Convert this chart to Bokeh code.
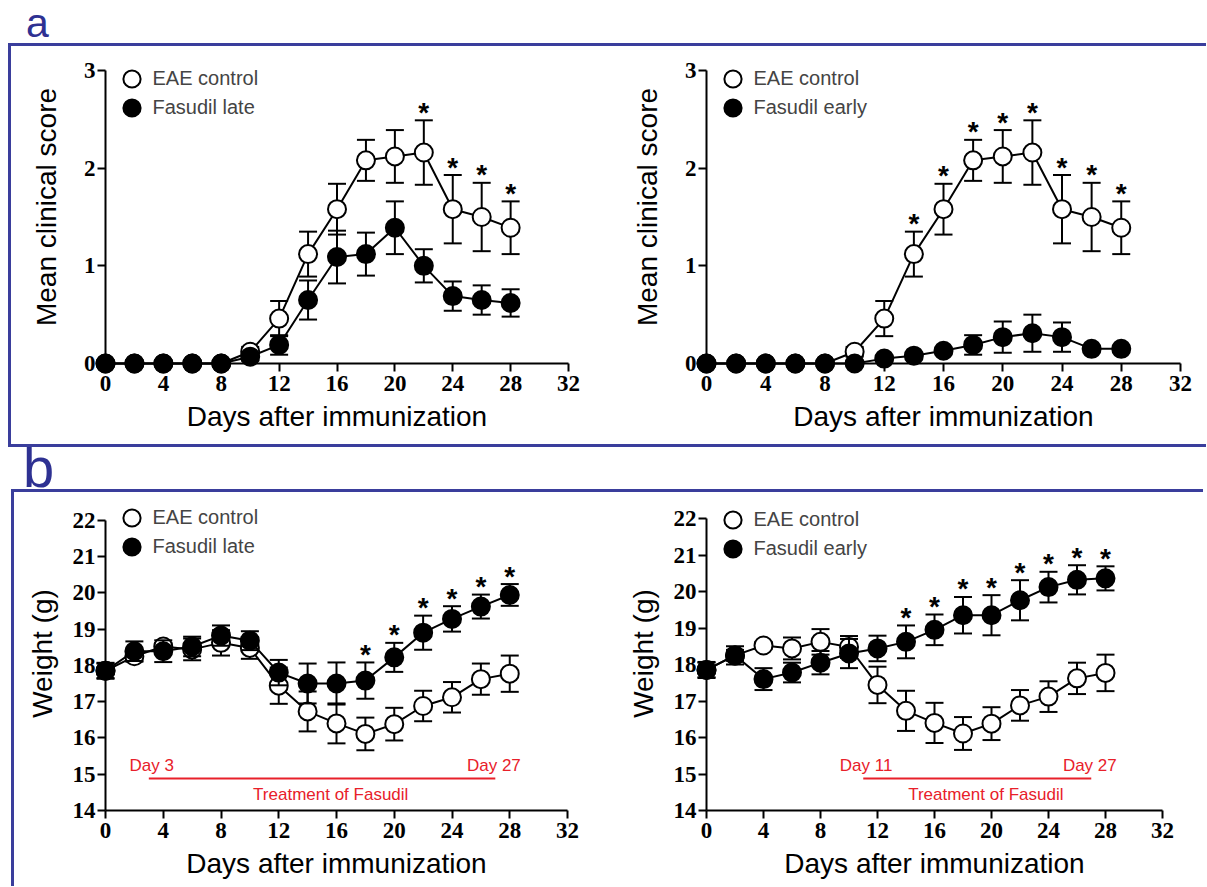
from bokeh.plotting import figure
from bokeh.models import Range1d, FixedTicker, ColumnDataSource, Legend, LegendItem, Div
from bokeh.layouts import row, column
from bokeh.embed import file_html
from bokeh.resources import INLINE
from bokeh.core.properties import value

# ---------------- data ----------------
days = [0, 2, 4, 6, 8, 10, 12, 14, 16, 18, 20, 22, 24, 26, 28]

# clinical score
eae_score = [0, 0, 0, 0, 0, 0.12, 0.46, 1.12, 1.58, 2.08, 2.12, 2.16, 1.58, 1.50, 1.39]
eae_score_err = [0, 0, 0, 0, 0, 0.05, 0.18, 0.23, 0.26, 0.21, 0.27, 0.33, 0.35, 0.35, 0.27]
late_score = [0, 0, 0, 0, 0, 0.07, 0.19, 0.65, 1.09, 1.12, 1.39, 1.00, 0.69, 0.65, 0.62]
late_score_err = [0, 0, 0, 0, 0, 0.04, 0.10, 0.20, 0.27, 0.22, 0.27, 0.17, 0.15, 0.15, 0.14]
early_score = [0, 0, 0, 0, 0, 0, 0.05, 0.08, 0.13, 0.19, 0.27, 0.31, 0.27, 0.15, 0.15]
early_score_err = [0, 0, 0, 0, 0, 0, 0, 0, 0, 0.10, 0.16, 0.19, 0.15, 0, 0]

# weight (g)
eae_weight = [17.85, 18.25, 18.52, 18.44, 18.62, 18.48, 17.44, 16.73, 16.40, 16.11, 16.38, 16.88, 17.12, 17.62, 17.77]
eae_weight_err = [0.20, 0.15, 0.10, 0.30, 0.35, 0.30, 0.50, 0.55, 0.55, 0.45, 0.45, 0.42, 0.42, 0.43, 0.50]
late_weight = [17.85, 18.39, 18.39, 18.52, 18.82, 18.68, 17.80, 17.50, 17.50, 17.58, 18.22, 18.90, 19.28, 19.62, 19.94]
late_weight_err = [0.22, 0.27, 0.30, 0.27, 0.28, 0.26, 0.35, 0.55, 0.58, 0.50, 0.40, 0.47, 0.35, 0.33, 0.30]
early_weight = [17.85, 18.25, 17.60, 17.78, 18.05, 18.30, 18.44, 18.62, 18.95, 19.35, 19.35, 19.76, 20.12, 20.32, 20.36]
early_weight_err = [0.22, 0.25, 0.30, 0.27, 0.32, 0.40, 0.35, 0.45, 0.42, 0.50, 0.55, 0.55, 0.42, 0.40, 0.33]

# significance stars (days)
stars_score_late = [22, 24, 26, 28]
stars_score_early = [14, 16, 18, 20, 22, 24, 26, 28]
stars_weight_late = [18, 20, 22, 24, 26, 28]
stars_weight_early = [14, 16, 18, 20, 22, 24, 26, 28]

# treatment periods
treat_late = [3, 27]
treat_early = [11, 27]

x_ticks = [0, 4, 8, 12, 16, 20, 24, 28, 32]
score_ticks = [0, 1, 2, 3]
weight_ticks = [14, 15, 16, 17, 18, 19, 20, 21, 22]

BLUE = "#3a3e9c"
NAVY = "#2e3192"
RED = "#e8202a"
SANS = "Liberation Sans"


def add_series(p, y, err, fill):
    src = ColumnDataSource(dict(x=days, y=y))
    p.line("x", "y", source=src, line_color="black", line_width=2, level="annotation")
    xs = [d for d, e in zip(days, err) if e > 0]
    up = [v + e for v, e in zip(y, err) if e > 0]
    lo = [v - e for v, e in zip(y, err) if e > 0]
    esrc = ColumnDataSource(dict(x=xs, upper=up, lower=lo))
    p.segment(x0="x", y0="lower", x1="x", y1="upper", source=esrc,
              line_color="black", line_width=2, level="annotation")
    p.scatter("x", "upper", source=esrc, marker="dash", size=18,
              line_color="black", line_width=2, level="annotation")
    p.scatter("x", "lower", source=esrc, marker="dash", size=18,
              line_color="black", line_width=2, level="annotation")
    sc = p.scatter("x", "y", source=src, size=18, fill_color=fill,
                   line_color="black", line_width=2, level="annotation")
    return sc


def make_panel(width, height, mbl, mbr, axis_top_px, axis_px, yr, yticks, ylabel,
               ylab_standoff, ctrl, ctrl_err, trt, trt_err, trt_name, star_days,
               star_on_ctrl, leg_dy, treat=None):
    mbt = 4
    extra = axis_top_px - mbt
    mbb = height - axis_top_px - axis_px
    y_end = yr[1] + extra * (yr[1] - yr[0]) / axis_px
    p = figure(width=width, height=height, x_range=Range1d(0, 32),
               y_range=Range1d(yr[0], y_end), output_backend="svg",
               toolbar_location=None, min_border_left=mbl, min_border_right=mbr,
               min_border_top=mbt, min_border_bottom=mbb)
    p.xgrid.visible = False
    p.ygrid.visible = False
    p.outline_line_color = None
    p.xaxis.ticker = FixedTicker(ticks=x_ticks)
    p.yaxis.ticker = FixedTicker(ticks=yticks)
    p.yaxis.bounds = (yr[0], yr[1])
    p.xaxis.axis_label = "Days after immunization"
    p.yaxis.axis_label = ylabel
    for ax in (p.xaxis[0], p.yaxis[0]):
        ax.axis_line_width = 2
        ax.axis_line_color = "black"
        ax.major_tick_line_width = 2
        ax.major_tick_line_color = "black"
        ax.major_tick_out = 8
        ax.major_tick_in = 0
        ax.minor_tick_line_color = None
        ax.major_label_text_font = "Liberation Serif"
        ax.major_label_text_font_style = "bold"
        ax.major_label_text_font_size = "23px"
        ax.major_label_text_color = "black"
        ax.axis_label_text_font = SANS
        ax.axis_label_text_font_style = "normal"
        ax.axis_label_text_font_size = "28px"
        ax.axis_label_text_color = "black"
    p.xaxis.major_label_standoff = 4
    p.xaxis.axis_label_standoff = 7
    p.yaxis.major_label_standoff = 2
    p.yaxis.axis_label_standoff = ylab_standoff

    sc_ctrl = add_series(p, ctrl, ctrl_err, "white")
    sc_trt = add_series(p, trt, trt_err, "black")

    # stars
    base_y = ctrl if star_on_ctrl else trt
    base_e = ctrl_err if star_on_ctrl else trt_err
    sy = [base_y[days.index(d)] + base_e[days.index(d)] for d in star_days]
    ssrc = ColumnDataSource(dict(x=star_days, y=sy, t=["*"] * len(star_days)))
    p.text("x", "y", text="t", source=ssrc, text_font=value(SANS),
           text_font_size="28px", text_font_style="bold", text_align="center",
           text_baseline="alphabetic", y_offset=-8, text_color="black",
           level="annotation")

    if treat is not None:
        s, e = treat
        p.segment(x0=[s], y0=[14.88], x1=[e], y1=[14.88], line_color=RED, line_width=2)
        tsrc = ColumnDataSource(dict(x=[s + 0.2, e - 0.1], y=[15.1, 15.1],
                                     t=["Day %d" % s, "Day %d" % e]))
        p.text("x", "y", text="t", source=tsrc, text_font=value(SANS),
               text_font_size="17px", text_align="center", text_baseline="alphabetic",
               y_offset=-5, text_color=RED)
        msrc = ColumnDataSource(dict(x=[(s + e) / 2 + 0.6], y=[14.3], t=["Treatment of Fasudil"]))
        p.text("x", "y", text="t", source=msrc, text_font=value(SANS),
               text_font_size="17px", text_align="center", text_baseline="alphabetic",
               y_offset=-5, text_color=RED)

    G = 43
    for i, (lab, rend) in enumerate([("EAE control", sc_ctrl), (trt_name, sc_trt)]):
        dy = leg_dy + 29 * i
        leg = Legend(items=[LegendItem(label=lab, renderers=[rend])],
                     location=(26 - G / 2, axis_px - dy - G / 2), margin=0, padding=0,
                     glyph_width=G, glyph_height=G, label_standoff=16 - G // 2 - 6,
                     spacing=0, background_fill_alpha=0, border_line_alpha=0,
                     label_text_font=SANS, label_text_font_size="20px",
                     label_height=20)
        p.add_layout(leg)
    return p


pa1 = make_panel(600, 398, 94, 43, 24, 293, (0, 3), score_ticks, "Mean clinical score", 19,
                 eae_score, eae_score_err, late_score, late_score_err, "Fasudil late",
                 stars_score_late, True, 8)
pa2 = make_panel(595, 398, 95, 26, 24, 293, (0, 3), score_ticks, "Mean clinical score", 19,
                 eae_score, eae_score_err, early_score, early_score_err, "Fasudil early",
                 stars_score_early, True, 8)
pb1 = make_panel(597, 394, 91, 44, 28, 294, (14, 22), weight_ticks, "Weight (g)", 12,
                 eae_weight, eae_weight_err, late_weight, late_weight_err, "Fasudil late",
                 stars_weight_late, False, 1, treat_late)
pb2 = make_panel(592, 394, 95, 41, 26, 292, (14, 22), weight_ticks, "Weight (g)", 12,
                 eae_weight, eae_weight_err, early_weight, early_weight_err, "Fasudil early",
                 stars_weight_early, False, 1, treat_early)

div_a = Div(text='<div style="font-family: \'Liberation Sans\', sans-serif; font-size: 41px; '
                 'line-height: 30px; color: %s; margin: 0 0 0 18px;">a</div>' % NAVY,
            width=1195, height=35, margin=0)
div_b = Div(text='<div style="font-family: \'Liberation Sans\', sans-serif; font-size: 56px; '
                 'line-height: 42px; color: %s; margin: 0 0 0 15px;">b</div>' % NAVY,
            width=1195, height=42, margin=0)

row_a = row(pa1, pa2, margin=0,
            styles={"border-top": "3px solid " + BLUE, "border-left": "3px solid " + BLUE,
                    "border-bottom": "3px solid " + BLUE})
row_b = row(pb1, pb2, margin=(0, 0, 0, 3),
            styles={"border-top": "3px solid " + BLUE, "border-left": "3px solid " + BLUE})

layout = column(div_a, row_a, div_b, row_b, margin=(8, 0, 0, 8))

open("out.html", "w").write(file_html(layout, INLINE))
